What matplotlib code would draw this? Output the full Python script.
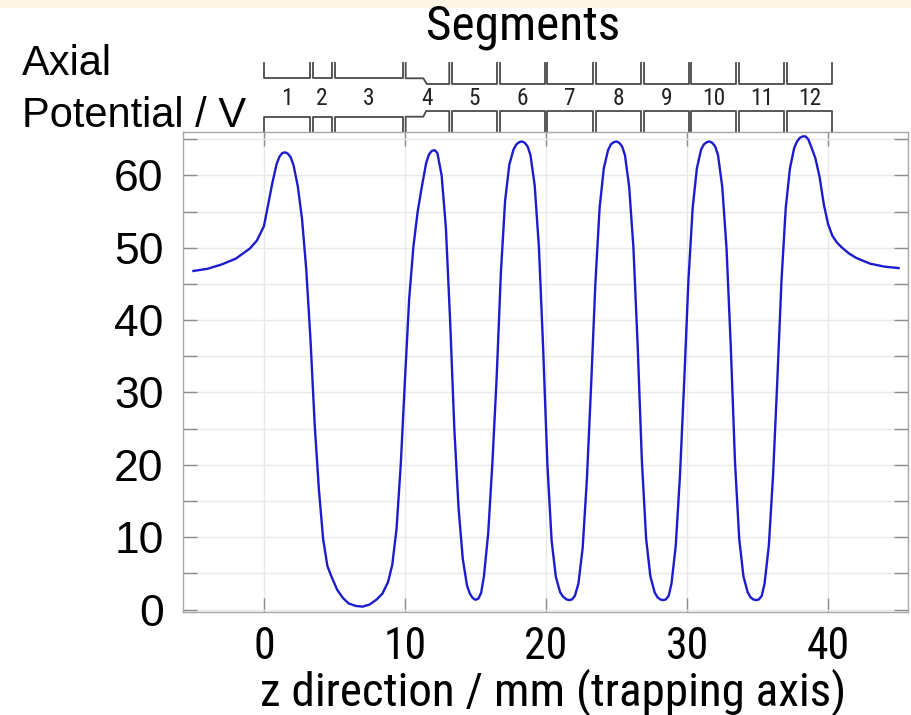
import os
import matplotlib
matplotlib.use('Agg')
import matplotlib.pyplot as plt
from matplotlib import font_manager
from matplotlib.font_manager import FontProperties
from matplotlib.patches import Rectangle

# Axial potential along the trap
z_mm = [
    -5.0, -4.0, -3.0, -2.0, -1.0, -0.5, 0.0, 0.3, 0.6, 0.9, 1.1, 1.3, 1.5, 1.7, 1.9,
    2.1, 2.4, 2.7, 3.0, 3.3, 3.6, 3.9, 4.2, 4.5, 4.8, 5.2, 5.6, 6.0, 6.5, 7.0, 7.5,
    8.0, 8.4, 8.8, 9.1, 9.4, 9.7, 10.0, 10.3, 10.6, 10.9, 11.2, 11.5, 11.7, 11.9,
    12.1, 12.3, 12.6, 12.9, 13.2, 13.5, 13.8, 14.1, 14.4, 14.6, 14.8, 15.0, 15.2,
    15.4, 15.6, 15.9, 16.2, 16.5, 16.8, 17.1, 17.4, 17.7, 17.9, 18.1, 18.3, 18.5,
    18.7, 18.9, 19.2, 19.5, 19.8, 20.1, 20.4, 20.7, 21.0, 21.2, 21.45, 21.65, 21.85,
    22.05, 22.3, 22.6, 22.9, 23.2, 23.5, 23.8, 24.1, 24.4, 24.6, 24.8, 25.0, 25.2,
    25.4, 25.6, 25.9, 26.2, 26.5, 26.8, 27.1, 27.4, 27.7, 27.9, 28.1, 28.3, 28.5,
    28.7, 28.9, 29.2, 29.5, 29.8, 30.1, 30.4, 30.7, 31.0, 31.2, 31.4, 31.6, 31.8,
    32.0, 32.2, 32.5, 32.8, 33.1, 33.4, 33.7, 34.0, 34.3, 34.5, 34.7, 34.9, 35.1,
    35.3, 35.5, 35.8, 36.1, 36.4, 36.7, 37.0, 37.3, 37.6, 37.8, 38.0, 38.2, 38.4,
    38.6, 38.8, 39.1, 39.4, 39.7, 40.0, 40.3, 40.6, 41.0, 41.5, 42.0, 43.0, 44.0, 45.0,
]
potential_v = [
    46.8, 47.1, 47.7, 48.5, 49.9, 51.0, 53.0, 56.0, 59.0, 61.6, 62.6, 63.1, 63.2, 63.0, 62.5,
    61.4, 58.5, 54.0, 47.0, 37.3, 25.5, 16.5, 9.7, 6.0, 4.5, 2.7, 1.6, 0.85, 0.5, 0.4, 0.7,
    1.4, 2.2, 3.8, 6.2, 11.1, 20.0, 31.8, 43.0, 50.2, 55.0, 58.5, 61.7, 62.9, 63.4,
    63.5, 63.1, 60.0, 52.8, 40.0, 25.0, 14.0, 7.0, 3.3, 2.2, 1.6, 1.35, 1.5,
    2.3, 4.6, 10.5, 20.3, 32.0, 46.5, 56.5, 61.5, 63.6, 64.3, 64.6, 64.7, 64.5,
    64.0, 62.8, 58.6, 50.0, 36.0, 20.0, 9.5, 4.5, 2.4, 1.8, 1.4, 1.3, 1.4,
    1.9, 3.6, 8.5, 18.0, 31.0, 45.0, 55.5, 61.0, 63.5, 64.3, 64.6, 64.7, 64.5,
    64.0, 62.8, 58.4, 50.0, 36.5, 20.5, 9.8, 4.6, 2.4, 1.7, 1.4, 1.3, 1.4,
    1.9, 3.6, 8.8, 18.5, 31.5, 45.5, 55.5, 61.0, 63.6, 64.3, 64.6, 64.7, 64.5,
    64.0, 62.8, 58.4, 50.0, 36.5, 20.5, 9.8, 4.6, 2.4, 1.7, 1.4, 1.3, 1.4,
    1.9, 3.6, 8.8, 18.5, 31.5, 45.5, 55.5, 61.0, 63.8, 64.7, 65.2, 65.4, 65.4,
    65.0, 64.0, 62.4, 59.8, 56.0, 53.3, 51.7, 50.8, 50.0, 49.2, 48.6, 47.8, 47.4, 47.2,
]

# electrode segments (mm)
seg_labels = [str(i) for i in range(1, 13)]
seg_start = [0.0, 3.45, 5.04, 10.05, 13.33, 16.74, 20.09, 23.55, 26.93, 30.30, 33.69, 37.09]
seg_end = [3.26, 4.80, 9.88, 13.14, 16.55, 19.91, 23.35, 26.74, 30.12, 33.50, 36.90, 40.26]
seg_type = ['wide', 'wide', 'wide', 'taper'] + ['narrow'] * 8
taper_at = 11.3

x_ticks = [0, 10, 20, 30, 40]
y_ticks = [0, 10, 20, 30, 40, 50, 60]
y_minor = [5, 15, 25, 35, 45, 55, 65]


def find_narrow_font():
    """Look for a condensed sans font file; None if there is none."""
    wanted = ['liberationsansnarrow-regular', 'arialn', 'robotocondensed-regular',
              'notosans-condensed.', 'opensans_condensed-regular',
              'opensans-condensedregular', 'dejavusanscondensed.']
    files = [f.fname for f in font_manager.fontManager.ttflist]
    for key in wanted:
        for path in files:
            if key in os.path.basename(path).lower().replace(' ', ''):
                return path
    return None


narrow_path = find_narrow_font()
narrow_fp = FontProperties(fname=narrow_path) if narrow_path else FontProperties(family='Liberation Sans')
plt.rcParams['font.family'] = ['Liberation Sans', 'DejaVu Sans']

W, H = 912, 715
fig = plt.figure(figsize=(W / 100, H / 100), dpi=100)
fig.patches.append(Rectangle((0, 1 - 7 / H), 1, 7 / H, transform=fig.transFigure,
                             color='#fdf6e6', zorder=0))
renderer = fig.canvas.get_renderer()


def fit_size(text, target_px):
    # font size that gives the narrow text the reference width
    t = fig.text(0, 0, text, fontproperties=narrow_fp, fontsize=20)
    w = t.get_window_extent(renderer).width
    t.remove()
    return 20 * target_px / w


ax_top, ax_bot = 131.7, 611.7
ax = fig.add_axes([183 / W, (H - ax_bot) / H, 725 / W, (ax_bot - ax_top) / H])
ax.plot(z_mm, potential_v, color='#1c1ccf', lw=1.7)
ax.set_xlim(-5.74, 45.67)
ax.set_ylim(-0.3, 66.05)
xt_size = min(fit_size('40', 43), 34)
ax.set_xticks(x_ticks, [str(v) for v in x_ticks], fontproperties=narrow_fp, fontsize=xt_size)
ax.set_yticks(y_ticks)
ax.set_yticks(y_minor, minor=True)
ax.grid(which='both', color='#e9e9e9', lw=1)
ax.set_axisbelow(True)
ax.tick_params(which='both', direction='in', length=10, width=1, color='#8c8c8c',
               top=True, right=True)
ax.tick_params(axis='y', labelsize=32, pad=14)
ax.tick_params(axis='x', pad=10)
for s in ax.spines.values():
    s.set_color('#a8a8a8')
    s.set_linewidth(1)


# segment sketch above the axes, y in pixels from the top of the figure
def fy(py):
    return (ax_bot - py) / (ax_bot - ax_top)


tr = ax.get_xaxis_transform()
ec = '#4a4a4a'
top_y = fy(63)
up_wide, up_narrow = fy(78.3), fy(84)
lo_wide, lo_narrow = fy(116.7), fy(111)
base = 1.0
seg_size = fit_size('12', 23)
for a, b, kind, lab in zip(seg_start, seg_end, seg_type, seg_labels):
    if kind == 'wide':
        ux, uy = [a, a, b, b], [top_y, up_wide, up_wide, top_y]
        lx, ly = [a, a, b, b], [base, lo_wide, lo_wide, base]
    elif kind == 'narrow':
        ux, uy = [a, a, b, b], [top_y, up_narrow, up_narrow, top_y]
        lx, ly = [a, a, b, b], [base, lo_narrow, lo_narrow, base]
    else:
        ux = [a, a, taper_at, taper_at + 0.25, b, b]
        uy = [top_y, up_wide, up_wide, up_narrow, up_narrow, top_y]
        lx = [a, a, taper_at, taper_at + 0.2, b, b]
        ly = [base, lo_wide, lo_wide, lo_narrow, lo_narrow, base]
    ax.plot(ux, uy, transform=tr, color=ec, lw=1.3, clip_on=False)
    ax.plot(lx, ly, transform=tr, color=ec, lw=1.3, clip_on=False)
    ax.text((a + b) / 2, fy(98), lab, transform=tr, ha='center', va='center',
            fontproperties=narrow_fp, fontsize=seg_size, color='#222222')

fig.text(523 / W, (H - 40) / H, 'Segments', ha='center', va='baseline',
         fontproperties=narrow_fp, fontsize=fit_size('Segments', 194))
fig.text(22 / W, (H - 75) / H, 'Axial', ha='left', va='baseline', fontsize=30)
fig.text(22 / W, (H - 127) / H, 'Potential / V', ha='left', va='baseline', fontsize=30)
xl = 'z direction / mm (trapping axis)'
fig.text(553 / W, (H - 705) / H, xl, ha='center', va='baseline',
         fontproperties=narrow_fp, fontsize=fit_size(xl, 586))

fig.savefig('out.png', dpi=100)
